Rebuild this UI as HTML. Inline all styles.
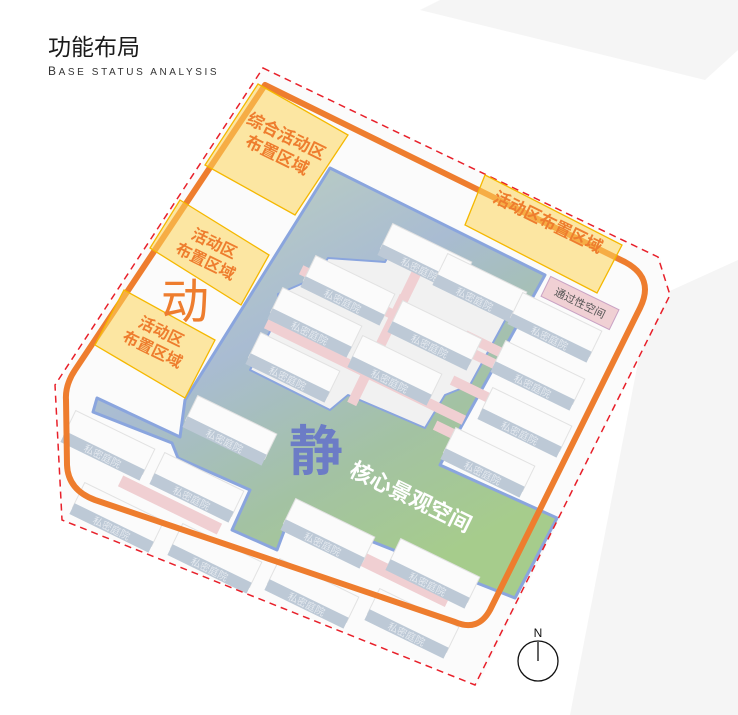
<!DOCTYPE html>
<html><head><meta charset="utf-8"><style>
html,body{margin:0;padding:0;background:#fff;}
svg{display:block;}
text{font-family:"Liberation Sans","Noto Sans CJK SC",sans-serif;}
</style></head><body>
<svg width="738" height="715" viewBox="0 0 738 715" xmlns="http://www.w3.org/2000/svg">
<defs>
<linearGradient id="core" x1="0" y1="0" x2="0.6" y2="1">
<stop offset="0" stop-color="#c3d6b9"/>
<stop offset="0.45" stop-color="#a9bcd2"/>
<stop offset="0.75" stop-color="#a3c2a3"/>
<stop offset="1" stop-color="#a6cc8c"/>
</linearGradient>
<g id="bd">
<rect x="-44" y="-28" width="88" height="28" fill="#fbfbfb" stroke="#e2e2e2"/>
<rect x="-44" y="-5" width="88" height="12" fill="#bdc9d6"/>
<text x="0" y="5" font-size="10" fill="#e4e9ef" text-anchor="middle">私密庭院</text>
</g>
</defs>
<rect width="738" height="715" fill="#ffffff"/>
<g fill="#f5f5f5">
<polygon points="440,0 738,0 738,50 705,80 420,10"/>
<polygon points="650,300 738,260 738,715 570,715"/>
</g>
<polygon points="263,68 660,257 670,295 478,685 62,520 57,385" fill="#fbfbfb"/>
<!-- core landscape -->
<polygon points="330,168 545,275 440,465 557,518 515,598 292,510 277,550 232,530 250,490 178,458 172,443 93,412 97,398 180,437 185,400" fill="url(#core)" stroke="#8aa5de" stroke-width="3" stroke-linejoin="round"/>
<!-- inner cluster -->
<polygon points="400,235 520,293 470,385 445,395 425,428 348,395 330,410 250,370 280,312 278,294 315,278 328,258 385,262" fill="#f1f1f1" stroke="#8aa5de" stroke-width="2" stroke-linejoin="round"/>
<!-- pink paths -->
<g fill="#f0cfd2">
<rect x="-110" y="-5" width="220" height="10" transform="translate(400,318) rotate(26)"/>
<rect x="-110" y="-5" width="220" height="10" transform="translate(365,372) rotate(26)"/>
<rect x="-5" y="-60" width="10" height="120" transform="translate(378,350) rotate(26)"/>
<rect x="-5" y="-30" width="10" height="60" transform="translate(412,282) rotate(26)"/>
<rect x="-50" y="-5" width="100" height="10" transform="translate(510,357) rotate(26)"/>
<rect x="-50" y="-5" width="100" height="10" transform="translate(497,402) rotate(26)"/>
<rect x="-50" y="-5" width="100" height="10" transform="translate(480,447) rotate(26)"/>
<rect x="-55" y="-6" width="110" height="12" transform="translate(170,505) rotate(26)"/>
<rect x="-70" y="-7" width="140" height="14" transform="translate(385,570) rotate(26)"/>
</g>
<!-- buildings -->
<use href="#bd" transform="translate(343,300) rotate(26)"/>
<use href="#bd" transform="translate(420,268) rotate(26)"/>
<use href="#bd" transform="translate(310,332) rotate(26)"/>
<use href="#bd" transform="translate(430,345) rotate(26)"/>
<use href="#bd" transform="translate(288,377) rotate(26)"/>
<use href="#bd" transform="translate(390,380) rotate(26)"/>
<use href="#bd" transform="translate(475,298) rotate(26)"/>
<use href="#bd" transform="translate(550,337) rotate(26)"/>
<use href="#bd" transform="translate(533,385) rotate(26)"/>
<use href="#bd" transform="translate(520,432) rotate(26)"/>
<use href="#bd" transform="translate(483,472) rotate(26)"/>
<use href="#bd" transform="translate(103,455) rotate(26)"/>
<use href="#bd" transform="translate(192,497) rotate(26)"/>
<use href="#bd" transform="translate(112,527) rotate(26)"/>
<use href="#bd" transform="translate(210,568) rotate(26)"/>
<use href="#bd" transform="translate(307,603) rotate(26)"/>
<use href="#bd" transform="translate(323,543) rotate(26)"/>
<use href="#bd" transform="translate(428,583) rotate(26)"/>
<use href="#bd" transform="translate(407,633) rotate(26)"/>
<use href="#bd" transform="translate(225,440) rotate(26)"/>
<!-- orange boundary -->
<path d="M265,85 L625,262 Q655,278 640,308 L490,610 Q478,632 455,622 L95,500 Q68,490 67,465 L66,400 Q65,385 75,370 Z" fill="none" stroke="#ee7d2e" stroke-width="6" stroke-linejoin="round"/>
<polygon points="263,68 658,257 670,295 475,685 62,520 55,385" fill="none" stroke="#e8202a" stroke-width="1.5" stroke-dasharray="7,5"/>
<g fill="rgba(253,214,90,0.55)" stroke="#f5b800" stroke-width="1.3">
<polygon points="258,84 348,135 295,215 205,165"/>
<polygon points="180,200 269,255 241,305 150,248"/>
<polygon points="124,290 215,340 185,398 95,345"/>
<polygon points="485,175 622,245 597,293 465,225"/>
</g>
<g transform="translate(580,303) rotate(26)">
<rect x="-38" y="-11" width="76" height="22" fill="#f0d0d4" stroke="#c9a2c4"/>
<text x="0" y="4" font-size="11" fill="#555" text-anchor="middle">通过性空间</text>
</g>
<g fill="#ee7d2e" font-weight="bold" text-anchor="middle">
<g transform="translate(282,145) rotate(26)"><text x="0" y="-4" font-size="17">综合活动区</text><text x="0" y="17" font-size="17">布置区域</text></g>
<g transform="translate(210,252) rotate(26)"><text x="0" y="-4" font-size="16">活动区</text><text x="0" y="16" font-size="16">布置区域</text></g>
<g transform="translate(157,340) rotate(26)"><text x="0" y="-4" font-size="16">活动区</text><text x="0" y="16" font-size="16">布置区域</text></g>
<g transform="translate(548,222) rotate(26)"><text x="0" y="6" font-size="17">活动区布置区域</text></g>
<text x="185" y="318" font-size="48" font-weight="normal">动</text>
</g>
<text x="316" y="470" font-size="54" font-weight="bold" fill="#6c7cc6" text-anchor="middle">静</text>
<text transform="translate(348,475) rotate(26)" font-size="22" font-weight="bold" fill="#ffffff">核心景观空间</text>
<text x="48" y="55" font-size="23" fill="#1a1a1a">功能布局</text>
<text x="48" y="75" font-size="12" fill="#333" letter-spacing="2.6">B<tspan font-size="10">ASE STATUS ANALYSIS</tspan></text>
<circle cx="538" cy="661" r="20" fill="none" stroke="#111" stroke-width="1.3"/>
<line x1="538" y1="642" x2="538" y2="661" stroke="#111" stroke-width="1.3"/>
<text x="538" y="637" font-size="12" fill="#111" text-anchor="middle">N</text>
</svg>
</body></html>
